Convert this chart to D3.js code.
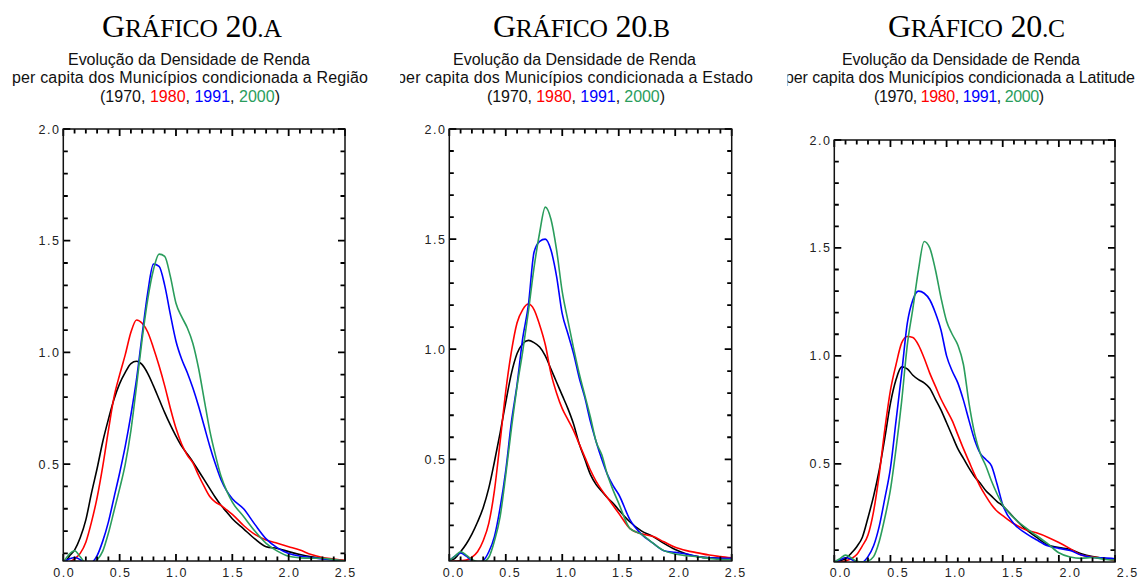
<!DOCTYPE html>
<html>
<head>
<meta charset="utf-8">
<script src="https://cdn.jsdelivr.net/npm/d3@7"></script>
<style>
  body { margin: 0; background: #fff; }
  svg { display: block; }
</style>
</head>
<body>
<svg id="chart" width="1139" height="580"></svg>
<script>
// income relative to mean, shared by every curve
const xs = [0, 0.05, 0.1, 0.15, 0.2, 0.25, 0.3, 0.35, 0.4, 0.45, 0.5, 0.55, 0.6, 0.65, 0.7, 0.75,
    0.8, 0.85, 0.9, 0.95, 1.0, 1.05, 1.1, 1.15, 1.2, 1.25, 1.3, 1.35, 1.4, 1.45, 1.5,
    1.6, 1.7, 1.8, 1.9, 2.0, 2.1, 2.2, 2.3, 2.4, 2.5];

const years = ["1970", "1980", "1991", "2000"];
const yearColors = ["#000000", "#ff0000", "#0000ff", "#2a9d5c"];
const xTicks = [0, 0.5, 1.0, 1.5, 2.0, 2.5];
const yTicks = [0.5, 1.0, 1.5, 2.0];
const panelLetters = ["A", "B", "C"];
const panelConditions = ["Região", "Estado", "Latitude"];

// 20.A - conditioned on region
const regiao1970 = [0.04,0.085,0.115,0.17,0.25,0.37,0.48,0.60,0.70,0.79,0.86,0.91,0.95,0.96,0.945,0.905,0.85,0.79,0.73,0.675,0.625,0.58,0.545,0.51,0.47,0.43,0.39,0.35,0.315,0.285,0.255,0.21,0.165,0.13,0.122,0.108,0.095,0.085,0.078,0.072,0.068];
const regiao1980 = [0.05,0.06,0.075,0.10,0.15,0.24,0.35,0.49,0.65,0.80,0.90,0.99,1.09,1.145,1.13,1.09,1.02,0.94,0.85,0.75,0.66,0.59,0.54,0.505,0.45,0.40,0.355,0.33,0.315,0.295,0.275,0.225,0.185,0.16,0.145,0.13,0.115,0.095,0.082,0.075,0.068];
const regiao1991 = [0.06,0.075,0.082,0.072,0.05,0.058,0.09,0.155,0.24,0.35,0.46,0.58,0.72,0.88,1.08,1.27,1.395,1.385,1.30,1.17,1.05,0.97,0.91,0.84,0.76,0.67,0.58,0.50,0.43,0.38,0.345,0.30,0.23,0.165,0.125,0.10,0.088,0.082,0.075,0.07,0.065];
const regiao2000 = [0.06,0.095,0.112,0.085,0.055,0.05,0.07,0.11,0.19,0.29,0.39,0.50,0.65,0.85,1.06,1.24,1.37,1.44,1.43,1.34,1.22,1.16,1.11,1.04,0.93,0.79,0.65,0.54,0.445,0.38,0.33,0.265,0.20,0.145,0.11,0.087,0.08,0.078,0.078,0.072,0.066];

// 20.B - conditioned on state
const estado1970 = [0.04,0.05,0.08,0.115,0.16,0.215,0.28,0.37,0.49,0.62,0.76,0.89,0.98,1.025,1.04,1.03,1.01,0.97,0.91,0.85,0.79,0.73,0.66,0.57,0.50,0.43,0.385,0.355,0.325,0.30,0.27,0.215,0.175,0.15,0.118,0.09,0.07,0.058,0.052,0.05,0.05];
const estado1980 = [0.035,0.038,0.04,0.042,0.055,0.08,0.13,0.21,0.36,0.58,0.81,0.99,1.12,1.18,1.205,1.18,1.11,1.02,0.89,0.80,0.73,0.68,0.63,0.57,0.51,0.45,0.40,0.36,0.325,0.29,0.255,0.185,0.162,0.15,0.125,0.10,0.085,0.075,0.065,0.058,0.052];
const estado1991 = [0.04,0.06,0.075,0.06,0.04,0.03,0.04,0.08,0.15,0.28,0.45,0.67,0.84,1.05,1.20,1.44,1.49,1.50,1.45,1.33,1.16,1.07,0.98,0.87,0.78,0.67,0.58,0.50,0.43,0.38,0.34,0.225,0.16,0.12,0.085,0.077,0.07,0.058,0.052,0.05,0.05];
const estado2000 = [0.04,0.06,0.08,0.065,0.045,0.035,0.035,0.055,0.13,0.24,0.43,0.64,0.83,0.99,1.17,1.37,1.53,1.645,1.59,1.45,1.26,1.13,1.005,0.89,0.79,0.69,0.58,0.52,0.43,0.36,0.30,0.185,0.16,0.12,0.085,0.07,0.062,0.057,0.05,0.045,0.045];

// 20.C - conditioned on latitude
const latitude1970 = [0.04,0.05,0.06,0.085,0.116,0.16,0.25,0.35,0.47,0.62,0.78,0.89,0.949,0.94,0.91,0.89,0.875,0.85,0.80,0.75,0.69,0.63,0.57,0.525,0.48,0.44,0.41,0.375,0.35,0.325,0.305,0.25,0.20,0.16,0.125,0.112,0.103,0.083,0.07,0.062,0.054];
const latitude1980 = [0.04,0.045,0.05,0.06,0.08,0.12,0.17,0.28,0.45,0.66,0.84,0.96,1.06,1.09,1.085,1.05,0.99,0.92,0.86,0.80,0.75,0.70,0.635,0.57,0.51,0.45,0.394,0.35,0.31,0.28,0.26,0.222,0.195,0.18,0.16,0.135,0.107,0.077,0.068,0.062,0.05];
const latitude1991 = [0.045,0.055,0.065,0.058,0.045,0.045,0.07,0.12,0.21,0.34,0.48,0.70,0.92,1.15,1.26,1.30,1.29,1.26,1.20,1.12,1.00,0.93,0.875,0.795,0.70,0.61,0.548,0.52,0.49,0.405,0.31,0.222,0.18,0.148,0.12,0.108,0.098,0.077,0.066,0.064,0.06];
const latitude2000 = [0.045,0.06,0.077,0.065,0.048,0.045,0.05,0.07,0.14,0.25,0.38,0.57,0.79,1.05,1.22,1.40,1.53,1.50,1.40,1.27,1.16,1.10,1.05,0.96,0.78,0.64,0.548,0.49,0.42,0.36,0.31,0.25,0.205,0.168,0.13,0.088,0.068,0.062,0.066,0.058,0.054];

const panelSeries = [
    [regiao1970, regiao1980, regiao1991, regiao2000],
    [estado1970, estado1980, estado1991, estado2000],
    [latitude1970, latitude1980, latitude1991, latitude2000]
];

// where each of the three pasted plots sits on the page
const layout = [
    {left: 63.3, right: 345, top: 129, bottom: 561, yMin: 0.066, labels: [63.5, 345],
     titleX: 192, titleW: 180, headX: [189, 190, 190], headW: [242, 356, 180], strip: [0, 384]},
    {left: 449.3, right: 731.7, top: 129, bottom: 561, yMin: 0.038, labels: [453, 735],
     titleX: 581.5, titleW: 177, headX: [574.5, 575, 576], headW: [243, 356, 178], strip: [400, 762]},
    {left: 834.3, right: 1115, top: 140, bottom: 562, yMin: 0.045, labels: [840, 1127],
     titleX: 976.5, titleW: 177, headX: [961, 960, 959], headW: [238, 350, 170], strip: [787.5, 1139]}
];

let svg = d3.select("#chart");
let sans = "'Liberation Sans', Arial, Helvetica, sans-serif";

for (let i = 0; i < 3; i++) {
    drawHeader(svg, i, layout[i]);
    drawPlot(svg, i, layout[i], panelSeries[i]);
}

function drawHeader(svg, i, L) {
    svg.append("clipPath").attr("id", "strip" + i)
      .append("rect")
        .attr("x", L.strip[0]).attr("y", 0)
        .attr("width", L.strip[1] - L.strip[0]).attr("height", 115);

    let g = svg.append("g").attr("clip-path", "url(#strip" + i + ")");

    // GRÁFICO 20.X in small caps
    let title = g.append("text")
        .attr("x", L.titleX)
        .attr("y", 36.7)
        .attr("text-anchor", "middle")
        .attr("textLength", L.titleW)
        .attr("lengthAdjust", "spacing")
        .style("font-family", "'Liberation Serif', 'Times New Roman', serif")
        .style("fill", "#000");
    title.append("tspan").style("font-size", "32px").text("G");
    title.append("tspan").style("font-size", "25.5px").text("RÁFICO");
    title.append("tspan").style("font-size", "32px").text(" 20");
    title.append("tspan").style("font-size", "25.5px").text("." + panelLetters[i]);

    let lines = ["Evolução da Densidade de Renda",
                 "per capita dos Municípios condicionada a " + panelConditions[i]];
    lines.forEach((t, k) => {
        g.append("text")
            .attr("x", L.headX[k])
            .attr("y", 64.5 + k * 18.5)
            .attr("text-anchor", "middle")
            .attr("textLength", L.headW[k])
            .attr("lengthAdjust", "spacing")
            .style("font-family", sans)
            .style("font-size", "16px")
            .style("fill", "#111")
            .text(t);
    });

    let legend = g.append("text")
        .attr("x", L.headX[2])
        .attr("y", 101.5)
        .attr("text-anchor", "middle")
        .attr("textLength", L.headW[2])
        .attr("lengthAdjust", "spacing")
        .style("font-family", sans)
        .style("font-size", "16px")
        .style("white-space", "pre")
        .style("fill", "#111");
    legend.append("tspan").text("(");
    years.forEach((yr, k) => {
        legend.append("tspan").style("fill", k === 0 ? "#111" : yearColors[k]).text(yr);
        legend.append("tspan").text(k < years.length - 1 ? ", " : ")");
    });
}

function tickPath(values, pos, isMajor, horiz, fixed, dir) {
    // one path per edge, each tick pointing into the plot
    let p = d3.path();
    for (let d of values) {
        let len = dir * (isMajor(d) ? 7 : 4.5);
        if (horiz) {
            p.moveTo(pos(d), fixed);
            p.lineTo(pos(d), fixed + len);
        } else {
            p.moveTo(fixed, pos(d));
            p.lineTo(fixed + len, pos(d));
        }
    }
    return p.toString();
}

function drawPlot(svg, i, L, series) {
    let x = d3.scaleLinear().domain([0, 2.5]).range([L.left, L.right]);
    let y = d3.scaleLinear().domain([L.yMin, 2.0]).range([L.bottom, L.top]);
    let xLabel = d3.scaleLinear().domain([0, 2.5]).range(L.labels);

    let xMinor = d3.range(0, 26).map(d => d / 10);
    let yMinor = d3.range(Math.ceil(L.yMin * 10), 21).map(d => d / 10);
    let isMajor = d => Math.abs(d * 2 - Math.round(d * 2)) < 1e-6;

    svg.append("clipPath").attr("id", "plot" + i)
      .append("rect")
        .attr("x", L.left).attr("y", L.top)
        .attr("width", L.right - L.left).attr("height", L.bottom - L.top);

    // density curves
    let line = d3.line()
        .x((d, k) => x(xs[k]))
        .y(d => y(d))
        .curve(d3.curveMonotoneX);

    let curves = svg.append("g").attr("clip-path", "url(#plot" + i + ")");
    series.forEach((s, k) => {
        curves.append("path")
            .datum(s)
            .attr("d", line)
            .style("fill", "none")
            .style("stroke", yearColors[k])
            .style("stroke-width", 1.6)
            .style("stroke-linejoin", "round");
    });

    let edges = [
        [xMinor, x, true, L.bottom, -1],
        [xMinor, x, true, L.top, 1],
        [yMinor, y, false, L.left, 1],
        [yMinor, y, false, L.right, -1]
    ];
    for (let [vals, sc, horiz, fixed, dir] of edges) {
        svg.append("path")
            .attr("d", tickPath(vals, sc, isMajor, horiz, fixed, dir))
            .style("fill", "none")
            .style("stroke", "#000")
            .style("stroke-width", 1.8);
    }

    svg.append("rect")
        .attr("x", L.left).attr("y", L.top)
        .attr("width", L.right - L.left).attr("height", L.bottom - L.top)
        .style("fill", "none")
        .style("stroke", "#111")
        .style("stroke-width", 1.5);

    // tick labels
    svg.append("g").selectAll("text")
        .data(xTicks)
        .enter()
        .append("text")
        .attr("x", d => xLabel(d) + 0.8)
        .attr("y", Math.min(L.bottom + 16.5, 576.5))
        .attr("text-anchor", "middle")
        .style("font-family", sans)
        .style("font-size", "12.5px")
        .style("letter-spacing", "1.5px")
        .style("fill", "#222")
        .text(d => d.toFixed(1));

    svg.append("g").selectAll("text")
        .data(yTicks)
        .enter()
        .append("text")
        .attr("x", L.left - 2.8)
        .attr("y", d => y(d))
        .attr("dy", "0.36em")
        .attr("text-anchor", "end")
        .style("font-family", sans)
        .style("font-size", "12.5px")
        .style("letter-spacing", "1.5px")
        .style("fill", "#222")
        .text(d => d.toFixed(1));
}
</script>
</body>
</html>
